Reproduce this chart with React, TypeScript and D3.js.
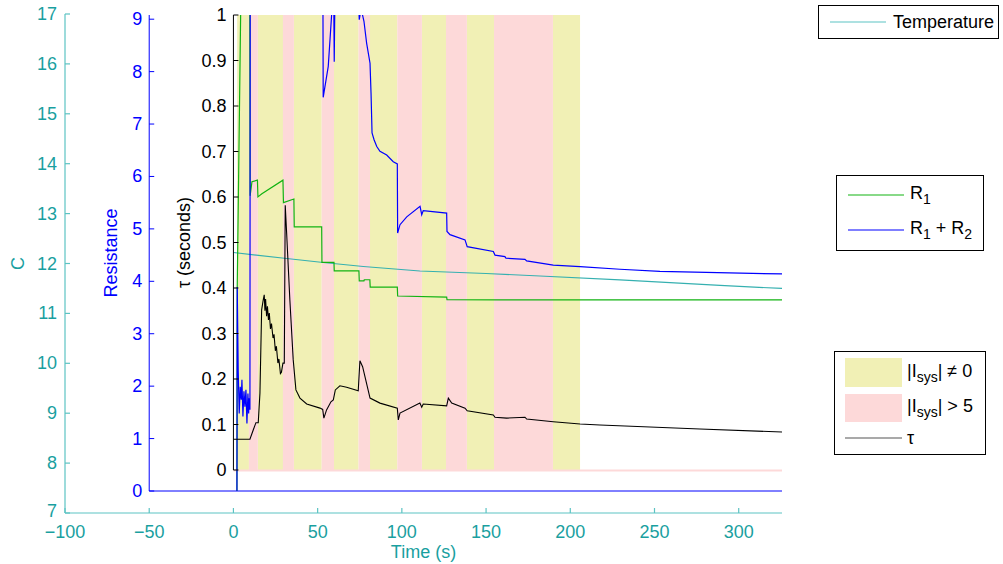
import React from "react";
import * as d3 from "d3";

type Pt = [number, number];

// Current-state bands, [start, end] in seconds
const yellowBands: Pt[] = [
  [2.2, 9.2], [14.5, 29.4], [35.9, 52.4], [59.7, 74.3],
  [81.1, 97.3], [111.9, 126.2], [138.6, 154.7], [189.7, 205.8],
];
const pinkBands: Pt[] = [
  [9.2, 14.5], [29.4, 35.9], [52.4, 59.7], [74.3, 81.1],
  [97.3, 111.9], [126.2, 138.6], [154.7, 189.7],
];

// Temperature (C) over time
const temperature: Pt[] = [
  [0, 12.22], [31.6, 12.1], [53.3, 12.02], [77.1, 11.94], [110.7, 11.85],
  [150, 11.8], [182, 11.75], [229.5, 11.67], [288.9, 11.56], [325.7, 11.5],
];

// R1 resistance
const r1: Pt[] = [
  [2.1, 0], [2.26, 3.89], [4.28, 9.08], [4.7, 9.9], [9.7, 9.9], [9.9, 5.63],
  [11.0, 5.9], [14.25, 5.93], [14.55, 5.61], [16.9, 5.67], [29.4, 5.93],
  [29.7, 5.5], [35.9, 5.57], [36.1, 5.04], [52.4, 5.04], [52.55, 4.36],
  [59.7, 4.36], [59.85, 4.2], [74.5, 4.2], [74.7, 4.01], [77.5, 4.01],
  [77.7, 4.03], [81.0, 4.03], [81.2, 3.89], [97.3, 3.89], [97.5, 3.72],
  [126.6, 3.7], [126.8, 3.65], [158, 3.645], [325.7, 3.645],
];

// R1 + R2 resistance
const r12: Pt[] = [
  [2.08, 0], [2.26, 3.89], [2.85, 2.28], [3.44, 1.48], [4.04, 1.99],
  [4.63, 1.74], [5.05, 2.12], [5.64, 1.42], [6.24, 1.9], [6.83, 1.61],
  [7.42, 1.93], [8.02, 1.29], [8.61, 1.86], [9.03, 1.48], [9.38, 1.77],
  [9.8, 1.55], [9.98, 9.9], [53.1, 9.9], [53.3, 7.51], [56.3, 8.1],
  [58.3, 9.08], [58.8, 9.6], [59.5, 9.6], [59.85, 8.19], [60.3, 9.6],
  [74.0, 9.6], [74.7, 8.99], [75.8, 9.2], [77.5, 8.96], [79.1, 8.54],
  [81.1, 8.16], [81.7, 7.59], [82.3, 6.83], [83.5, 6.7], [85.1, 6.57],
  [87.0, 6.48], [91.0, 6.41], [94.9, 6.28], [97.3, 6.24], [97.5, 4.92],
  [98.9, 5.08], [102.9, 5.23], [110.8, 5.43], [111.8, 5.27], [112.7, 5.35],
  [126.6, 5.3], [126.8, 4.95], [128.6, 4.89], [137.5, 4.79], [138.8, 4.66],
  [154.3, 4.57], [155.3, 4.5], [161.2, 4.47], [161.8, 4.44], [173.1, 4.42],
  [174.1, 4.39], [189.9, 4.31], [205.8, 4.28], [229.5, 4.23], [253.2, 4.19],
  [325.7, 4.14],
];

// Time constant tau (seconds)
const tau: Pt[] = [
  [0, 0.0675], [9.8, 0.0675], [11.76, 0.088], [13.36, 0.104], [14.73, 0.104],
  [15.74, 0.169], [16.75, 0.352], [17.7, 0.374], [18.29, 0.385], [18.7, 0.35],
  [19.1, 0.376], [19.7, 0.338], [20.2, 0.36], [20.8, 0.33], [21.3, 0.345],
  [22.0, 0.31], [22.6, 0.322], [23.5, 0.29], [24.1, 0.298], [24.9, 0.262],
  [25.5, 0.272], [26.4, 0.235], [27.0, 0.244], [27.9, 0.212], [28.5, 0.215],
  [29.4, 0.235], [30.2, 0.235], [30.76, 0.582], [31.6, 0.52], [33.5, 0.374],
  [35.5, 0.242], [37.1, 0.176], [39.5, 0.158], [43.5, 0.145], [51.4, 0.136],
  [53.0, 0.133], [53.7, 0.114], [55.3, 0.132], [57.9, 0.15], [59.3, 0.154],
  [60.5, 0.176], [63.2, 0.185], [67.2, 0.182], [74.1, 0.174], [75.1, 0.24],
  [76.7, 0.227], [81.1, 0.158], [87.0, 0.147], [97.3, 0.136], [97.9, 0.11],
  [98.9, 0.125], [110.7, 0.147], [111.8, 0.138], [112.7, 0.145], [126.6, 0.141],
  [127.6, 0.158], [129.6, 0.147], [137.5, 0.136], [138.8, 0.13], [154.3, 0.121],
  [155.3, 0.116], [162.2, 0.114], [173.1, 0.116], [174.1, 0.112], [189.9, 0.106],
  [205.8, 0.101], [217.6, 0.099], [277, 0.09], [325.7, 0.0835],
];

const timeTicks = [-100, -50, 0, 50, 100, 150, 200, 250, 300];
const tempTicks = [7, 8, 9, 10, 11, 12, 13, 14, 15, 16, 17];
const resTicks = [0, 1, 2, 3, 4, 5, 6, 7, 8, 9];
const tauTicks = [0, 0.1, 0.2, 0.3, 0.4, 0.5, 0.6, 0.7, 0.8, 0.9, 1];

const FONT = "'Liberation Sans', Arial, Helvetica, sans-serif";
const FS = 18;
const SUB = 14;
const TEAL = "#1a9f9f";
const TEAL_AXIS = "#5cc3c3";
const TEMP_LINE = "#35b0b0";
const BLUE = "#0000ff";
const GREEN = "#12b312";
const YELLOW = "#f1f0b5";
const PINK = "#fdd9d9";

const T_MAX = 325.7;

const x = d3.scaleLinear().domain([-100, T_MAX]).range([65, 782]);
const yTemp = d3.scaleLinear().domain([7, 17]).range([513, 14]);
const yRes = d3.scaleLinear().domain([0, 9.08]).range([491, 15]);
const yTau = d3.scaleLinear().domain([0, 1]).range([470, 15]);

const fmt = (v: number) => (v < 0 ? "\u2212" + Math.abs(v) : String(v));

export default function App() {
  const tempLine = d3.line<Pt>().x((d) => x(d[0])).y((d) => yTemp(d[1]))(temperature) || "";
  const r1Line = d3.line<Pt>().x((d) => x(d[0])).y((d) => yRes(d[1]))(r1) || "";
  const r12Line = d3.line<Pt>().x((d) => x(d[0])).y((d) => yRes(d[1]))(r12) || "";
  const tauLine = d3.line<Pt>().x((d) => x(d[0])).y((d) => yTau(d[1]))(tau) || "";

  const xTeal0 = x(-100);
  const xRes0 = x(-50);
  const xTau0 = x(0);
  const xEnd = x(T_MAX);

  return (
    <svg
      width={1003}
      height={564}
      style={{ position: "absolute", left: 0, top: 0, background: "#fff" }}
      fontFamily={FONT}
      fontSize={FS}
    >
      <defs>
        <clipPath id="clipRes">
          <rect x={xRes0} y={yRes(9.08)} width={xEnd - xRes0} height={yRes(0) - yRes(9.08)} />
        </clipPath>
        <clipPath id="clipTau">
          <rect x={xTau0} y={yTau(1)} width={xEnd - xTau0} height={yTau(0) - yTau(1)} />
        </clipPath>
      </defs>

      {/* current-state bands on the tau axes */}
      <g clipPath="url(#clipTau)">
        {yellowBands.map(([a, b], i) => (
          <rect key={"y" + i} x={x(a)} y={yTau(1)} width={x(b) - x(a)} height={yTau(0) - yTau(1)} fill={YELLOW} />
        ))}
        {pinkBands.map(([a, b], i) => (
          <rect key={"p" + i} x={x(a)} y={yTau(1)} width={x(b) - x(a)} height={yTau(0) - yTau(1)} fill={PINK} />
        ))}
      </g>
      <line x1={xTau0} x2={xEnd} y1={yTau(0) + 0.5} y2={yTau(0) + 0.5} stroke={PINK} strokeWidth={2} />

      {/* outer temperature axes */}
      <g stroke={TEAL_AXIS} strokeWidth={1.2} fill="none">
        <line x1={xTeal0} x2={xTeal0} y1={yTemp(17)} y2={yTemp(7)} />
        <line x1={xTeal0} x2={xEnd} y1={yTemp(7)} y2={yTemp(7)} />
        {tempTicks.map((t) => (
          <line key={t} x1={xTeal0} x2={xTeal0 + 5} y1={yTemp(t)} y2={yTemp(t)} />
        ))}
        {timeTicks.map((t) => (
          <line key={t} x1={x(t)} x2={x(t)} y1={yTemp(7)} y2={yTemp(7) - 5} />
        ))}
      </g>
      <g fill={TEAL}>
        {tempTicks.map((t) => (
          <text
            key={t}
            x={xTeal0 - 8}
            y={yTemp(t) - (t === 7 ? 2 : 0)}
            textAnchor="end"
            dominantBaseline="central"
          >
            {t}
          </text>
        ))}
        {timeTicks.map((t) => (
          <text key={t} x={x(t)} y={532} textAnchor="middle" dominantBaseline="central">
            {fmt(t)}
          </text>
        ))}
        <text x={(xTeal0 + xEnd) / 2} y={552} textAnchor="middle" dominantBaseline="central">
          Time (s)
        </text>
        <text
          transform={`translate(18,${(yTemp(7) + yTemp(17)) / 2}) rotate(-90)`}
          textAnchor="middle"
          dominantBaseline="central"
        >
          C
        </text>
      </g>
      <path d={tempLine} fill="none" stroke={TEMP_LINE} strokeWidth={1.2} />

      {/* resistance axes */}
      <g stroke={BLUE} strokeWidth={1} fill="none">
        <line x1={xRes0} x2={xRes0} y1={yRes(9.08)} y2={yRes(0)} />
        <line x1={xRes0} x2={xEnd} y1={yRes(0)} y2={yRes(0)} />
        {resTicks.map((t) => (
          <line key={t} x1={xRes0} x2={xRes0 + 5} y1={yRes(t)} y2={yRes(t)} />
        ))}
      </g>
      <g fill={BLUE}>
        {resTicks.map((t) => (
          <text key={t} x={xRes0 - 7} y={yRes(t)} textAnchor="end" dominantBaseline="central">
            {t}
          </text>
        ))}
        <text
          transform={`translate(111,${(yRes(0) + yRes(9.08)) / 2}) rotate(-90)`}
          textAnchor="middle"
          dominantBaseline="central"
        >
          Resistance
        </text>
      </g>
      <g clipPath="url(#clipRes)" fill="none" strokeWidth={1.2}>
        <path d={r1Line} stroke={GREEN} />
        <path d={r12Line} stroke={BLUE} />
      </g>

      {/* tau axes */}
      <g stroke="#000" strokeWidth={1} fill="none">
        <line x1={xTau0} x2={xTau0} y1={yTau(1)} y2={yTau(0)} />
        {tauTicks.map((t) => (
          <line key={t} x1={xTau0} x2={xTau0 + 5} y1={yTau(t)} y2={yTau(t)} />
        ))}
      </g>
      <g fill="#000">
        {tauTicks.map((t) => (
          <text key={t} x={xTau0 - 7} y={yTau(t)} textAnchor="end" dominantBaseline="central">
            {t}
          </text>
        ))}
        <text
          transform={`translate(184,${(yTau(0) + yTau(1)) / 2}) rotate(-90)`}
          textAnchor="middle"
          dominantBaseline="central"
        >
          τ (seconds)
        </text>
      </g>
      <g clipPath="url(#clipTau)">
        <path d={tauLine} fill="none" stroke="#000" strokeWidth={1.1} />
      </g>

      {/* legends */}
      <g>
        <rect x={818.5} y={5.5} width={180} height={33} fill="#fff" stroke="#000" strokeWidth={1} />
        <line x1={830} x2={886} y1={22} y2={22} stroke={TEAL_AXIS} strokeWidth={1.2} />
        <text x={893} y={22} dominantBaseline="central">Temperature</text>
      </g>
      <g>
        <rect x={836.5} y={175.5} width={147} height={75} fill="#fff" stroke="#000" strokeWidth={1} />
        <line x1={848} x2={904} y1={195} y2={195} stroke={GREEN} strokeWidth={1.2} />
        <text x={910} y={199}>
          R<tspan fontSize={SUB} dy={5}>1</tspan>
        </text>
        <line x1={848} x2={904} y1={230} y2={230} stroke={BLUE} strokeWidth={1.2} />
        <text x={910} y={234}>
          R<tspan fontSize={SUB} dy={5}>1</tspan>
          <tspan dy={-5}> + R</tspan>
          <tspan fontSize={SUB} dy={5}>2</tspan>
        </text>
      </g>
      <g>
        <rect x={834.5} y={351.5} width={151} height={103} fill="#fff" stroke="#000" strokeWidth={1} />
        <rect x={845} y={358} width={57} height={29} fill={YELLOW} />
        <text x={907} y={377}>
          |I<tspan fontSize={SUB} dy={5}>sys</tspan>
          <tspan dy={-5}>| ≠ 0</tspan>
        </text>
        <rect x={845} y={394} width={57} height={28} fill={PINK} />
        <text x={907} y={412}>
          |I<tspan fontSize={SUB} dy={5}>sys</tspan>
          <tspan dy={-5}>| &gt; 5</tspan>
        </text>
        <line x1={845} x2={902} y1={438} y2={438} stroke="#555" strokeWidth={1.2} />
        <text x={907} y={438} dominantBaseline="central">τ</text>
      </g>
    </svg>
  );
}
